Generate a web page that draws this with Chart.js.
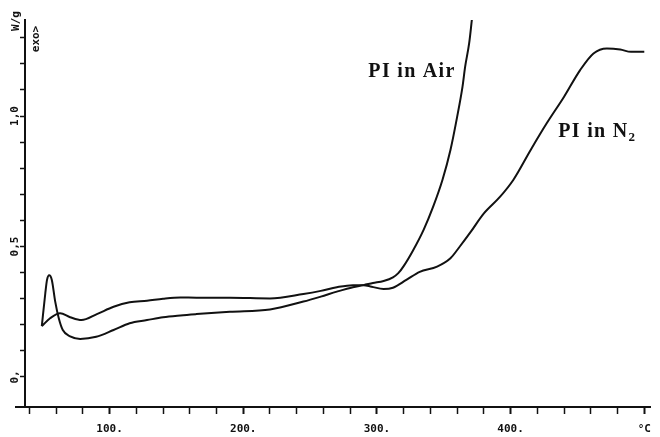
<!DOCTYPE html>
<html>
<head>
<meta charset="utf-8">
<script src="https://cdn.jsdelivr.net/npm/chart.js@4.4.1/dist/chart.umd.min.js"></script>
<style>
html, body { margin: 0; padding: 0; background: #fff; }
canvas { display: block; }
</style>
</head>
<body>
<canvas id="dsc" width="660" height="437"></canvas>
<script>
// DSC traces of polyimide: temperature (°C) vs heat flow (W/g)
const airTemp = [49.3, 51.9, 53.2, 54.8, 56.8, 59.3, 62, 65, 70.5, 78, 90, 103, 115, 128, 140, 153, 165, 190, 220, 245, 258, 270, 282, 290, 297, 305, 312, 316, 320, 327, 335, 342, 349, 355, 360, 364, 366, 369, 371];
const airFlow = [0.195, 0.32, 0.372, 0.39, 0.372, 0.29, 0.225, 0.18, 0.156, 0.146, 0.154, 0.18, 0.206, 0.218, 0.229, 0.236, 0.241, 0.25, 0.259, 0.289, 0.308, 0.327, 0.344, 0.352, 0.36, 0.368, 0.382, 0.398, 0.425, 0.485, 0.565, 0.652, 0.755, 0.87, 0.997, 1.112, 1.189, 1.279, 1.368];

const n2Temp = [49.3, 55.5, 63, 70.5, 79, 90.5, 103, 115, 128, 140, 153, 165, 190, 220, 245, 258, 270, 282, 290, 296, 305, 312, 322, 332, 345, 355, 362, 370, 380, 392, 402, 415, 427, 440, 452, 462, 472, 482, 490, 500];
const n2Flow = [0.195, 0.225, 0.244, 0.229, 0.218, 0.241, 0.269, 0.286, 0.292, 0.30, 0.305, 0.304, 0.304, 0.301, 0.318, 0.33, 0.344, 0.352, 0.352, 0.346, 0.337, 0.342, 0.372, 0.403, 0.423, 0.455, 0.5, 0.555, 0.627, 0.69, 0.755, 0.87, 0.972, 1.074, 1.176, 1.24, 1.259, 1.255, 1.246, 1.246];

const xLabelValues = [100, 200, 300, 400, 500];
const xLabelTexts = ['100.', '200.', '300.', '400.', '°C'];
const yLabelValues = [0, 0.5, 1.0];
const yLabelTexts = ['0,', '0,5', '1,0'];

const ink = '#111';
const yAxisAt = 36.7;   // temperature where the heat-flow axis stands
const plotterFont = '"DejaVu Sans Mono", monospace';

function toPoints(xs, ys) {
	return xs.map((x, i) => ({x: x, y: ys[i]}));
}

// rotated axis text and the curve captions
const plotterText = {
	id: 'plotterText',
	afterDraw(chart) {
		const ctx = chart.ctx;
		const xs = chart.scales.x;
		const ys = chart.scales.y;
		const axisX = xs.getPixelForValue(yAxisAt);
		const top = chart.chartArea.top;

		ctx.save();
		ctx.fillStyle = ink;
		ctx.font = 'bold 11px ' + plotterFont;
		ctx.textAlign = 'center';
		ctx.textBaseline = 'middle';
		const vertical = (text, x, y) => {
			ctx.save();
			ctx.translate(x, y);
			ctx.rotate(-Math.PI / 2);
			ctx.fillText(text, 0, 0);
			ctx.restore();
		};
		yLabelValues.forEach((v, i) => vertical(yLabelTexts[i], axisX - 10, ys.getPixelForValue(v)));
		vertical('W/g', axisX - 9, top + 1);
		vertical('exo>', axisX + 11, top + 19);

		ctx.textAlign = 'left';
		ctx.textBaseline = 'alphabetic';
		ctx.font = 'bold 20px "Liberation Serif", serif';
		ctx.letterSpacing = '1.3px';
		ctx.fillText('PI in Air', xs.getPixelForValue(293.6), ys.getPixelForValue(1.149));
		const nx = xs.getPixelForValue(435.7);
		const ny = ys.getPixelForValue(0.92);
		ctx.fillText('PI in N', nx, ny);
		const w = ctx.measureText('PI in N').width;
		ctx.font = 'bold 13px "Liberation Serif", serif';
		ctx.fillText('2', nx + w, ny + 4);
		ctx.restore();
	}
};

new Chart(document.getElementById('dsc'), {
	type: 'line',
	data: {
		datasets: [
			{
				label: 'PI in Air',
				data: toPoints(airTemp, airFlow)
			},
			{
				label: 'PI in N2',
				data: toPoints(n2Temp, n2Flow)
			}
		]
	},
	options: {
		responsive: false,
		animation: false,
		devicePixelRatio: 1,
		layout: {
			padding: {left: 16, right: 9, top: 20, bottom: 0}
		},
		plugins: {
			legend: {display: false},
			tooltip: {enabled: false}
		},
		elements: {
			point: {radius: 0},
			line: {
				borderWidth: 2,
				borderColor: ink,
				cubicInterpolationMode: 'monotone'
			}
		},
		scales: {
			x: {
				type: 'linear',
				position: 'bottom',
				min: 30,
				max: 505,
				afterFit: function(scale) {
					scale.height = 30;
				},
				border: {color: ink, width: 2},
				grid: {
					drawOnChartArea: false,
					tickLength: 7,
					tickColor: ink,
					tickWidth: function(c) {
						return c.tick && c.tick.value % 100 === 0 ? 2 : 1.5;
					}
				},
				ticks: {
					stepSize: 20,
					includeBounds: false,
					autoSkip: false,
					maxRotation: 0,
					padding: 9,
					color: ink,
					font: {family: plotterFont, size: 11, weight: 'bold'},
					callback: function(v) {
						const i = xLabelValues.indexOf(v);
						return i < 0 ? '' : xLabelTexts[i];
					}
				}
			},
			y: {
				type: 'linear',
				position: {x: yAxisAt},
				min: -0.115,
				max: 1.368,
				afterFit: function(scale) {
					scale.width = 0;
				},
				border: {color: ink, width: 2},
				grid: {
					drawOnChartArea: false,
					tickLength: 4,
					tickWidth: 1.5,
					tickColor: function(c) {
						return c.tick && c.tick.value < -0.001 ? 'rgba(0,0,0,0)' : ink;
					}
				},
				ticks: {
					display: false,
					stepSize: 0.1,
					includeBounds: false
				}
			}
		}
	},
	plugins: [plotterText]
});
</script>
</body>
</html>
